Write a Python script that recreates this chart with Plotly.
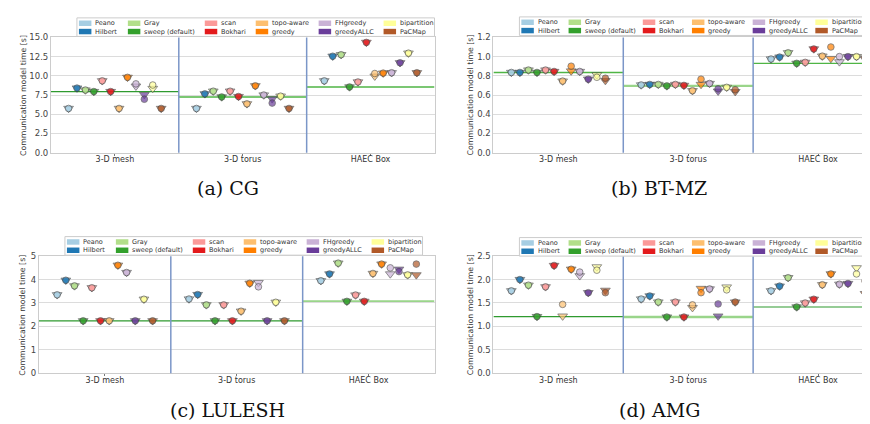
import plotly.graph_objects as go

# ---------------- data ----------------
SERIES = ["Peano", "Hilbert", "Gray", "sweep (default)", "scan", "Bokhari",
          "topo-aware", "greedy", "FHgreedy", "greedyALLC", "bipartition", "PaCMap"]
COLORS = ["#a6cee3", "#1f78b4", "#b2df8a", "#33a02c", "#fb9a99", "#e31a1c",
          "#fdbf6f", "#ff7f00", "#cab2d6", "#6a3d9a", "#ffff99", "#b15928"]
GROUPS = ["3-D mesh", "3-D torus", "HAEC Box"]

# (a) CG  -- triangle marker values / circle marker values, per group
CG_TRI = [
    [5.75, 8.4, 8.15, 7.95, 9.35, 7.95, 5.75, 9.8, 8.65, 7.55, 8.35, 5.75],
    [5.75, 7.65, 8.0, 7.25, 8.0, 7.3, 6.35, 8.7, 7.5, 7.0, 7.35, 5.75],
    [9.35, 12.55, 12.75, 8.55, 9.2, 14.35, 9.95, 10.35, 10.4, 11.7, 12.95, 10.4],
]
CG_CIRC = [
    [5.75, 8.4, 8.15, 7.95, 9.35, 7.95, 5.75, 9.8, 8.95, 6.95, 8.8, 5.75],
    [5.75, 7.65, 8.0, 7.25, 8.0, 7.3, 6.35, 8.7, 7.5, 6.45, 7.35, 5.75],
    [9.35, 12.55, 12.75, 8.55, 9.2, 14.35, 10.3, 10.35, 10.4, 11.7, 12.95, 10.4],
]
# (b) BT-MZ
BT_TRI = [
    [0.835, 0.835, 0.86, 0.835, 0.86, 0.845, 0.745, 0.85, 0.845, 0.765, 0.81, 0.75],
    [0.705, 0.71, 0.71, 0.695, 0.71, 0.70, 0.645, 0.71, 0.72, 0.64, 0.68, 0.635],
    [0.975, 0.995, 1.04, 0.93, 0.94, 1.08, 1.005, 0.98, 0.945, 1.0, 1.0, 0.975],
]
BT_CIRC = [
    [0.835, 0.835, 0.86, 0.835, 0.86, 0.845, 0.745, 0.90, 0.845, 0.765, 0.785, 0.775],
    [0.705, 0.71, 0.71, 0.695, 0.71, 0.70, 0.645, 0.765, 0.72, 0.665, 0.68, 0.655],
    [0.975, 0.995, 1.04, 0.93, 0.94, 1.08, 1.005, 1.10, 1.0, 1.0, 1.0, 1.005],
]
# (c) LULESH
LU_TRI = [
    [3.35, 3.97, 3.73, 2.24, 3.65, 2.24, 2.24, 4.61, 4.30, 2.24, 3.16, 2.24],
    [3.17, 3.36, 2.92, 2.24, 2.92, 2.24, 2.65, 3.84, 3.87, 2.24, 3.03, 2.24],
    [3.95, 4.24, 4.70, 3.07, 3.34, 3.07, 4.26, 4.66, 4.24, 4.44, 4.20, 4.20],
]
LU_CIRC = [
    [3.35, 3.97, 3.73, 2.24, 3.65, 2.24, 2.24, 4.61, 4.30, 2.24, 3.16, 2.24],
    [3.17, 3.36, 2.92, 2.24, 2.92, 2.24, 2.65, 3.84, 3.69, 2.24, 3.03, 2.24],
    [3.95, 4.24, 4.70, 3.07, 3.34, 3.07, 4.26, 4.66, 4.50, 4.34, 4.20, 4.66],
]
# (d) AMG
AMG_TRI = [
    [1.76, 2.0, 1.88, 1.21, 1.845, 2.3, 1.22, 2.22, 2.08, 1.72, 2.27, 1.77],
    [1.585, 1.65, 1.52, 1.20, 1.52, 1.20, 1.40, 1.81, 1.80, 1.22, 1.84, 1.52],
    [1.76, 1.86, 2.04, 1.415, 1.50, 1.58, 1.89, 2.12, 1.90, 1.915, 2.25, 1.70],
]
AMG_CIRC = [
    [1.76, 2.0, 1.88, 1.21, 1.845, 2.3, 1.47, 2.22, 2.16, 1.72, 2.20, 1.72],
    [1.585, 1.65, 1.52, 1.20, 1.52, 1.20, 1.46, 1.72, 1.80, 1.48, 1.78, 1.52],
    [1.76, 1.86, 2.04, 1.415, 1.50, 1.58, 1.89, 2.12, 1.90, 1.915, 2.12, 1.97],
]

CAPTIONS = ["(a) CG", "(b) BT-MZ", "(c) LULESH", "(d) AMG"]
Y_MAX = [15, 1.2, 5, 2.5]
Y_DTICK = [2.5, 0.2, 1, 0.5]
Y_FMT = [".1f", ".1f", "d", ".1f"]
Y_TITLE = "Communication model time [s]"

# ---------------- style / layout ----------------
W, H = 870, 424
DARK, MID, LIGHT = "#2f9a2f", "#4fb545", "#9ad58a"

panels = [
    dict(tri=CG_TRI, circ=CG_CIRC, x=(43, 427), y=(25, 143), xr=[-0.5, 2.5],
         leg=(69, 5), lscale=1.0, ytit=15, cap=(220, 179),
         lines=[(DARK, 1.2), (MID, 1.4), (MID, 1.4)]),
    dict(tri=BT_TRI, circ=BT_CIRC, x=(486, 870), y=(25, 143), xr=[-0.5, 2.454],
         leg=(512, 4), lscale=0.965, ytit=463, cap=(652, 179),
         lines=[(MID, 1.4), (LIGHT, 2.2), (MID, 1.4)]),
    dict(tri=LU_TRI, circ=LU_CIRC, x=(31, 427), y=(249, 369), xr=[-0.5, 2.5],
         leg=(57, 229), lscale=1.0, ytit=15, cap=(220, 407),
         lines=[(DARK, 1.2), (DARK, 1.2), (LIGHT, 2.2)]),
    dict(tri=AMG_TRI, circ=AMG_CIRC, x=(486, 870), y=(249, 369), xr=[-0.5, 2.454],
         leg=(512, 230), lscale=0.965, ytit=463, cap=(652, 407),
         lines=[(DARK, 1.2), (LIGHT, 2.4), (DARK, 1.2)]),
]

def fx(p):
    return p / W

def fy(p):
    return 1 - p / H

fig = go.Figure()
shapes, annots = [], []
layout_axes = {}

PATCH_OFF = [2, 51, 128, 179, 242, 307]
ROW_OFF = [5.5, 14.0]
LEG_W, LEG_H = 358, 19

for pi, P in enumerate(panels):
    sfx = "" if pi == 0 else str(pi + 1)
    for si, name in enumerate(SERIES):
        xs, ys, syms, sizes = [], [], [], []
        for gi, g in enumerate(GROUPS):
            xs += [g, g]
            ys += [P["tri"][gi][si], P["circ"][gi][si]]
            syms += ["triangle-down", "circle"]
            sizes += [8.5, 6.6]
        fig.add_trace(go.Scatter(
            x=xs, y=ys, mode="markers", name=name, showlegend=False,
            xaxis="x" + sfx, yaxis="y" + sfx, offsetgroup=name,
            marker=dict(symbol=syms, size=sizes, color=COLORS[si],
                        line=dict(color="#3c3c3c", width=0.8)),
            cliponaxis=False,
        ))

    layout_axes["xaxis" + sfx] = dict(
        domain=[fx(P["x"][0]), min(1.0, fx(P["x"][1]))], anchor="y" + sfx,
        type="category", categoryorder="array", categoryarray=GROUPS,
        range=P["xr"], showgrid=False, zeroline=False,
        showline=True, mirror=True, linecolor="#cccccc", linewidth=1,
        ticks="outside", ticklen=2, tickcolor="#777777", tickwidth=1,
        ticklabelstandoff=-3,
        tickfont=dict(family="DejaVu Sans", size=8, color="#333333"),
    )
    layout_axes["yaxis" + sfx] = dict(
        domain=[fy(P["y"][1]), fy(P["y"][0])], anchor="x" + sfx,
        range=[0, Y_MAX[pi]], dtick=Y_DTICK[pi], tick0=0, tickformat=Y_FMT[pi],
        showgrid=True, gridcolor="#dcdcdc", gridwidth=1.3, zeroline=False,
        showline=True, mirror=True, linecolor="#cccccc", linewidth=1,
        ticks="", tickfont=dict(family="DejaVu Sans", size=8.5, color="#444444"),
    )

    # separators between groups
    for xv in (0.5, 1.5):
        shapes.append(dict(type="line", xref="x" + sfx, yref="y" + sfx + " domain",
                           x0=xv, x1=xv, y0=0, y1=1, layer="above",
                           line=dict(color="#7b96c8", width=1.5)))
    # default (sweep) reference line per group
    for gi in range(3):
        col, wid = P["lines"][gi]
        yv = P["circ"][gi][3]
        shapes.append(dict(type="line", xref="x" + sfx, yref="y" + sfx,
                           x0=gi - 0.5, x1=gi + 0.5, y0=yv, y1=yv, layer="below",
                           line=dict(color=col, width=wid)))

    # y title
    annots.append(dict(text=Y_TITLE, x=fx(P["ytit"]), y=fy((P["y"][0] + P["y"][1]) / 2),
                       xref="paper", yref="paper", showarrow=False, textangle=-90,
                       xanchor="center", yanchor="middle",
                       font=dict(family="DejaVu Sans", size=7.8, color="#333333")))
    # caption
    annots.append(dict(text=CAPTIONS[pi], x=fx(P["cap"][0]), y=fy(P["cap"][1]),
                       xref="paper", yref="paper", showarrow=False,
                       xanchor="center", yanchor="middle",
                       font=dict(family="DejaVu Serif", size=19, color="#111111")))

    # legend box
    lx, ly = P["leg"]
    k = P["lscale"]
    shapes.append(dict(type="rect", xref="paper", yref="paper",
                       x0=fx(lx), x1=min(0.999, fx(lx + LEG_W * k)), y0=fy(ly + LEG_H), y1=fy(ly),
                       fillcolor="rgba(255,255,255,0.9)", line=dict(color="#cccccc", width=1),
                       layer="above"))
    for si, name in enumerate(SERIES):
        c, r = si // 2, si % 2
        px = lx + PATCH_OFF[c] * k
        py = ly + ROW_OFF[r]
        shapes.append(dict(type="rect", xref="paper", yref="paper",
                           x0=fx(px), x1=fx(px + 12.5), y0=fy(py + 2.8), y1=fy(py - 2.8),
                           fillcolor=COLORS[si], line=dict(width=0), layer="above"))
        annots.append(dict(text=name, x=fx(px + 14.5), y=fy(py), xref="paper", yref="paper",
                           showarrow=False, xanchor="left", yanchor="middle",
                           font=dict(family="DejaVu Sans", size=6.5, color="#333333")))

fig.update_layout(
    width=W, height=H, margin=dict(l=0, r=0, t=0, b=0),
    paper_bgcolor="white", plot_bgcolor="white",
    scattermode="group", scattergap=0.21,
    showlegend=False, shapes=shapes, annotations=annots,
    **layout_axes,
)

fig.write_html("out.html")
